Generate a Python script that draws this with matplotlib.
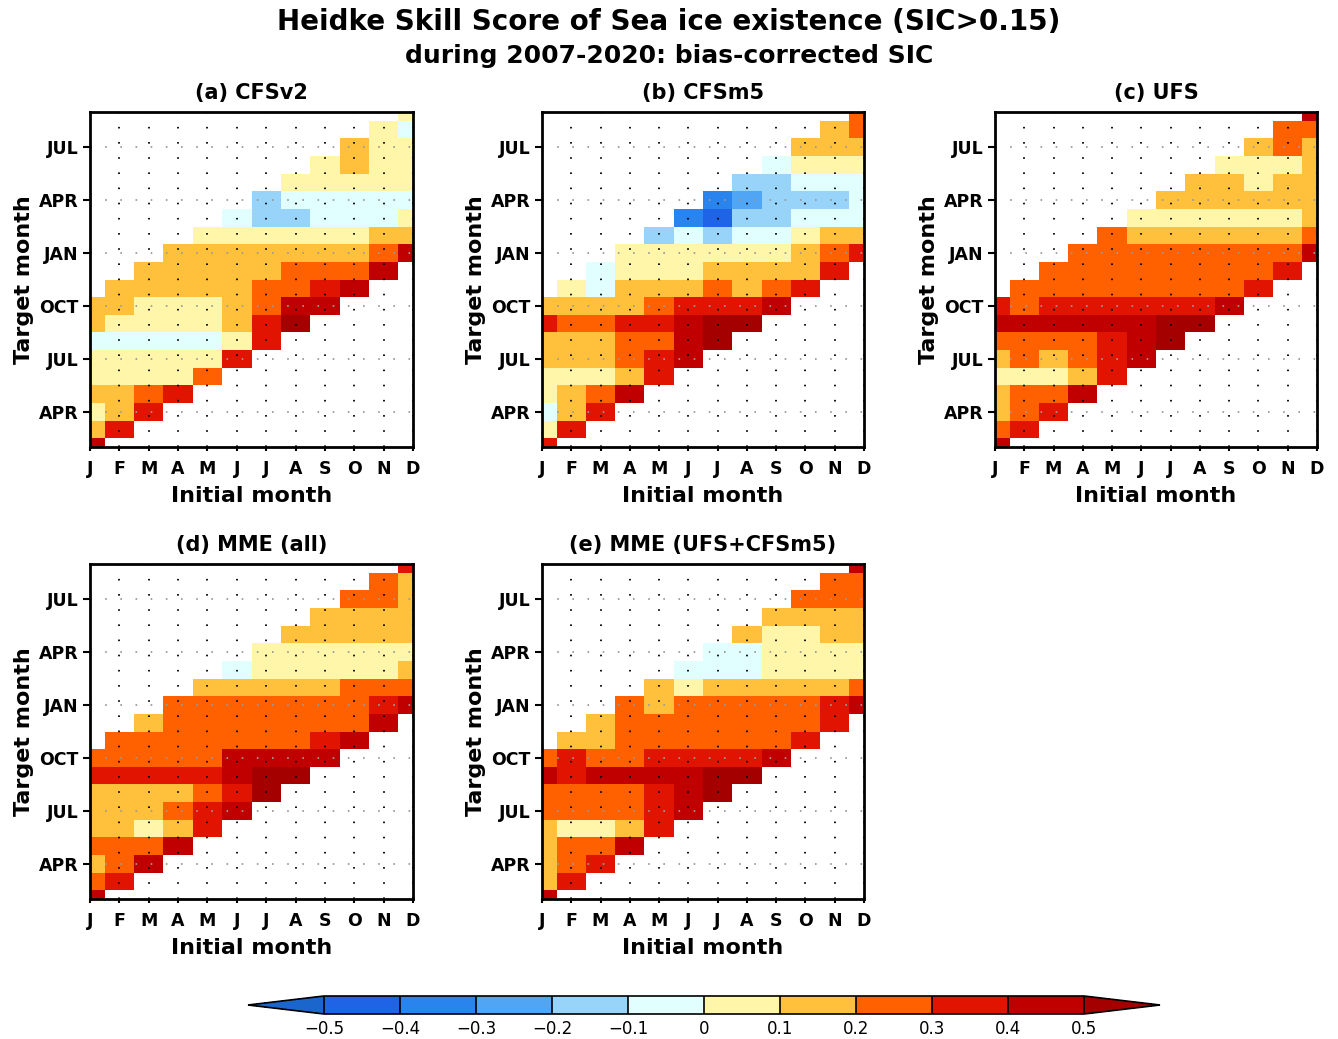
import numpy as np
import matplotlib
matplotlib.use('Agg')
import matplotlib.pyplot as plt
from matplotlib.colors import ListedColormap, BoundaryNorm

# HSS, one row per initial month (Jan..Dec),
# columns are lead 1..9 months (target month = initial month + lead)
cfsv2 = [
    [0.45, 0.15, 0.05, 0.15, 0.05, 0.05, -0.05, 0.15, 0.15],
    [0.35, 0.15, 0.15, 0.05, 0.05, -0.05, 0.05, 0.15, 0.15],
    [0.35, 0.25, 0.05, 0.05, -0.05, 0.05, 0.05, 0.15, 0.15],
    [0.35, 0.05, 0.05, -0.05, 0.05, 0.05, 0.15, 0.15, 0.15],
    [0.25, 0.05, -0.05, 0.05, 0.05, 0.15, 0.15, 0.15, 0.05],
    [0.35, 0.05, 0.15, 0.15, 0.15, 0.15, 0.15, 0.05, -0.05],
    [0.35, 0.35, 0.25, 0.25, 0.15, 0.15, 0.05, -0.15, -0.15],
    [0.55, 0.45, 0.25, 0.25, 0.15, 0.05, -0.15, -0.05, 0.05],
    [0.45, 0.35, 0.25, 0.15, 0.05, -0.05, -0.05, 0.05, 0.05],
    [0.45, 0.25, 0.15, 0.05, -0.05, -0.05, 0.05, 0.15, 0.15],
    [0.45, 0.25, 0.15, -0.05, -0.05, 0.05, 0.05, 0.05, 0.05],
    [0.45, 0.15, 0.05, -0.05, 0.05, 0.05, 0.05, -0.05, 0.05],
]

cfsm5 = [
    [0.35, 0.05, -0.05, 0.05, 0.05, 0.15, 0.15, 0.35, 0.15],
    [0.35, 0.15, 0.15, 0.05, 0.15, 0.15, 0.25, 0.15, 0.05],
    [0.35, 0.25, 0.05, 0.15, 0.15, 0.25, 0.15, -0.05, -0.05],
    [0.45, 0.15, 0.25, 0.25, 0.35, 0.15, 0.15, 0.05, 0.05],
    [0.35, 0.35, 0.25, 0.35, 0.25, 0.15, 0.05, 0.05, -0.15],
    [0.45, 0.45, 0.45, 0.35, 0.15, 0.05, 0.05, -0.05, -0.35],
    [0.55, 0.55, 0.35, 0.25, 0.15, 0.05, -0.15, -0.45, -0.35],
    [0.55, 0.35, 0.15, 0.15, 0.05, -0.05, -0.15, -0.25, -0.15],
    [0.45, 0.25, 0.15, 0.05, -0.05, -0.15, -0.15, -0.15, -0.05],
    [0.35, 0.15, 0.15, 0.05, -0.05, -0.15, -0.05, 0.05, 0.15],
    [0.35, 0.25, 0.15, -0.05, -0.15, -0.05, 0.05, 0.15, 0.15],
    [0.35, 0.15, -0.05, -0.05, -0.05, 0.05, 0.15, 0.25, 0.25],
]

ufs = [
    [0.45, 0.25, 0.15, 0.15, 0.05, 0.15, 0.25, 0.45, 0.35],
    [0.35, 0.25, 0.25, 0.05, 0.25, 0.25, 0.45, 0.25, 0.25],
    [0.35, 0.25, 0.05, 0.15, 0.25, 0.45, 0.35, 0.25, 0.25],
    [0.45, 0.15, 0.25, 0.25, 0.45, 0.35, 0.25, 0.25, 0.25],
    [0.35, 0.35, 0.35, 0.45, 0.35, 0.25, 0.25, 0.25, 0.25],
    [0.45, 0.45, 0.45, 0.35, 0.25, 0.25, 0.25, 0.15, 0.05],
    [0.55, 0.55, 0.35, 0.25, 0.25, 0.25, 0.15, 0.05, 0.15],
    [0.55, 0.35, 0.25, 0.25, 0.25, 0.15, 0.05, 0.15, 0.15],
    [0.45, 0.25, 0.25, 0.25, 0.15, 0.05, 0.15, 0.15, 0.05],
    [0.35, 0.25, 0.25, 0.15, 0.05, 0.15, 0.05, 0.05, 0.15],
    [0.35, 0.25, 0.15, 0.05, 0.15, 0.15, 0.05, 0.25, 0.25],
    [0.45, 0.25, 0.15, 0.15, 0.15, 0.15, 0.15, 0.25, 0.45],
]

mme_all = [
    [0.45, 0.25, 0.15, 0.25, 0.15, 0.15, 0.15, 0.35, 0.25],
    [0.35, 0.25, 0.25, 0.15, 0.15, 0.15, 0.35, 0.25, 0.25],
    [0.45, 0.25, 0.05, 0.15, 0.15, 0.35, 0.25, 0.25, 0.15],
    [0.45, 0.15, 0.25, 0.15, 0.35, 0.25, 0.25, 0.25, 0.25],
    [0.35, 0.35, 0.25, 0.35, 0.25, 0.25, 0.25, 0.25, 0.15],
    [0.45, 0.35, 0.45, 0.45, 0.25, 0.25, 0.25, 0.15, -0.05],
    [0.55, 0.55, 0.45, 0.25, 0.25, 0.25, 0.15, 0.05, 0.05],
    [0.55, 0.45, 0.25, 0.25, 0.25, 0.15, 0.05, 0.05, 0.15],
    [0.45, 0.35, 0.25, 0.25, 0.15, 0.05, 0.05, 0.15, 0.15],
    [0.45, 0.25, 0.25, 0.25, 0.05, 0.05, 0.15, 0.15, 0.25],
    [0.45, 0.35, 0.25, 0.05, 0.05, 0.15, 0.15, 0.25, 0.25],
    [0.45, 0.25, 0.15, 0.05, 0.15, 0.15, 0.15, 0.15, 0.35],
]

mme_ufs_cfsm5 = [
    [0.45, 0.15, 0.15, 0.15, 0.15, 0.25, 0.25, 0.45, 0.25],
    [0.35, 0.25, 0.25, 0.05, 0.25, 0.25, 0.35, 0.35, 0.15],
    [0.35, 0.25, 0.05, 0.25, 0.25, 0.45, 0.25, 0.15, 0.15],
    [0.45, 0.15, 0.25, 0.25, 0.45, 0.25, 0.25, 0.25, 0.25],
    [0.35, 0.35, 0.35, 0.45, 0.35, 0.25, 0.25, 0.15, 0.15],
    [0.45, 0.45, 0.45, 0.35, 0.25, 0.25, 0.25, 0.05, -0.05],
    [0.55, 0.55, 0.35, 0.25, 0.25, 0.25, 0.15, -0.05, -0.05],
    [0.55, 0.35, 0.25, 0.25, 0.25, 0.15, -0.05, -0.05, 0.15],
    [0.45, 0.25, 0.25, 0.25, 0.15, 0.05, 0.05, 0.05, 0.15],
    [0.35, 0.25, 0.25, 0.15, 0.05, 0.05, 0.05, 0.15, 0.25],
    [0.35, 0.35, 0.15, 0.05, 0.05, 0.15, 0.15, 0.25, 0.25],
    [0.45, 0.25, 0.05, 0.05, 0.15, 0.15, 0.25, 0.25, 0.45],
]

panel_titles = ['(a) CFSv2', '(b) CFSm5', '(c) UFS', '(d) MME (all)', '(e) MME (UFS+CFSm5)']
panel_data = [cfsv2, cfsm5, ufs, mme_all, mme_ufs_cfsm5]

init_labels = ['J', 'F', 'M', 'A', 'M', 'J', 'J', 'A', 'S', 'O', 'N', 'D']
target_ticks = [4, 7, 10, 13, 16, 19]
target_labels = ['APR', 'JUL', 'OCT', 'JAN', 'APR', 'JUL']

levels = [-0.5, -0.4, -0.3, -0.2, -0.1, 0, 0.1, 0.2, 0.3, 0.4, 0.5]
colors = ['#1f64e6', '#2a84ee', '#50a6f4', '#98d3fa', '#e1ffff',
          '#fff6aa', '#ffc03c', '#ff6000', '#e01400', '#c00000']
cmap = ListedColormap(colors)
cmap.set_under('#1a66cc')
cmap.set_over('#a50000')
cmap.set_bad('white')
norm = BoundaryNorm(levels, cmap.N)

fig = plt.figure(figsize=(13.38, 10.39), dpi=100)
W, H = 1338.0, 1039.0

# axes boxes in pixels: left, top, right, bottom
boxes = [(90, 112, 413, 447), (542, 112, 864, 447), (995, 112, 1317, 447),
         (90, 564, 413, 899), (542, 564, 864, 899)]

n_lead = 9
x_edges = np.arange(0.5, 13.5, 1.0)
y_edges = np.arange(1.5, 22.5, 1.0)

for (l, t, r, b), title, data in zip(boxes, panel_titles, panel_data):
    ax = fig.add_axes([l / W, 1 - b / H, (r - l) / W, (b - t) / H])
    grid = np.full((20, 12), np.nan)
    for i in range(12):
        for k in range(n_lead):
            tgt = i + 1 + k + 1
            grid[tgt - 2, i] = data[i][k]
    mesh = ax.pcolormesh(x_edges, y_edges, np.ma.masked_invalid(grid),
                         cmap=cmap, norm=norm)
    ax.set_xlim(1, 12)
    ax.set_ylim(2, 21)
    ax.set_xticks(range(1, 13))
    ax.set_xticklabels(init_labels, fontsize=12.5, fontweight='bold')
    ax.set_yticks(target_ticks)
    ax.set_yticklabels(target_labels, fontsize=12.5, fontweight='bold')
    ax.tick_params(axis='x', length=3, width=1.5, pad=6)
    ax.tick_params(axis='y', length=5, width=1.5, pad=3)
    ax.set_axisbelow(False)
    ax.xaxis.grid(True, color='black', linestyle=(0, (0.9, 7.5)), linewidth=1.3)
    ax.yaxis.grid(True, color='#9a9a9a', linestyle=(0, (0.9, 7.5)), linewidth=1.3)
    for sp in ax.spines.values():
        sp.set_linewidth(2)
        sp.set_zorder(5)
    ax.set_title(title, fontsize=15, fontweight='bold', pad=9)
    ax.set_xlabel('Initial month', fontsize=16, fontweight='bold', labelpad=6)
    ax.set_ylabel('Target month', fontsize=16, fontweight='bold', labelpad=4)

fig.text(0.5, 1 - 22 / H, 'Heidke Skill Score of Sea ice existence (SIC>0.15)',
         ha='center', va='center', fontsize=20, fontweight='bold')
fig.text(0.5, 1 - 56 / H, 'during 2007-2020: bias-corrected SIC',
         ha='center', va='center', fontsize=18, fontweight='bold')

# colorbar at the bottom (axes holds the end triangles too)
cax = fig.add_axes([248 / W, 1 - 1014 / H, 912 / W, 18 / H])
cb = fig.colorbar(mesh, cax=cax, orientation='horizontal', extend='both',
                  extendfrac=0.1, ticks=levels, drawedges=True)
cb.outline.set_linewidth(1.2)
cb.dividers.set_linewidth(1.2)
cb.ax.set_xticklabels(['\u22120.5', '\u22120.4', '\u22120.3', '\u22120.2', '\u22120.1',
                       '0', '0.1', '0.2', '0.3', '0.4', '0.5'], fontsize=12)
cb.ax.tick_params(length=0, pad=4)

fig.savefig('out.png', dpi=100)
